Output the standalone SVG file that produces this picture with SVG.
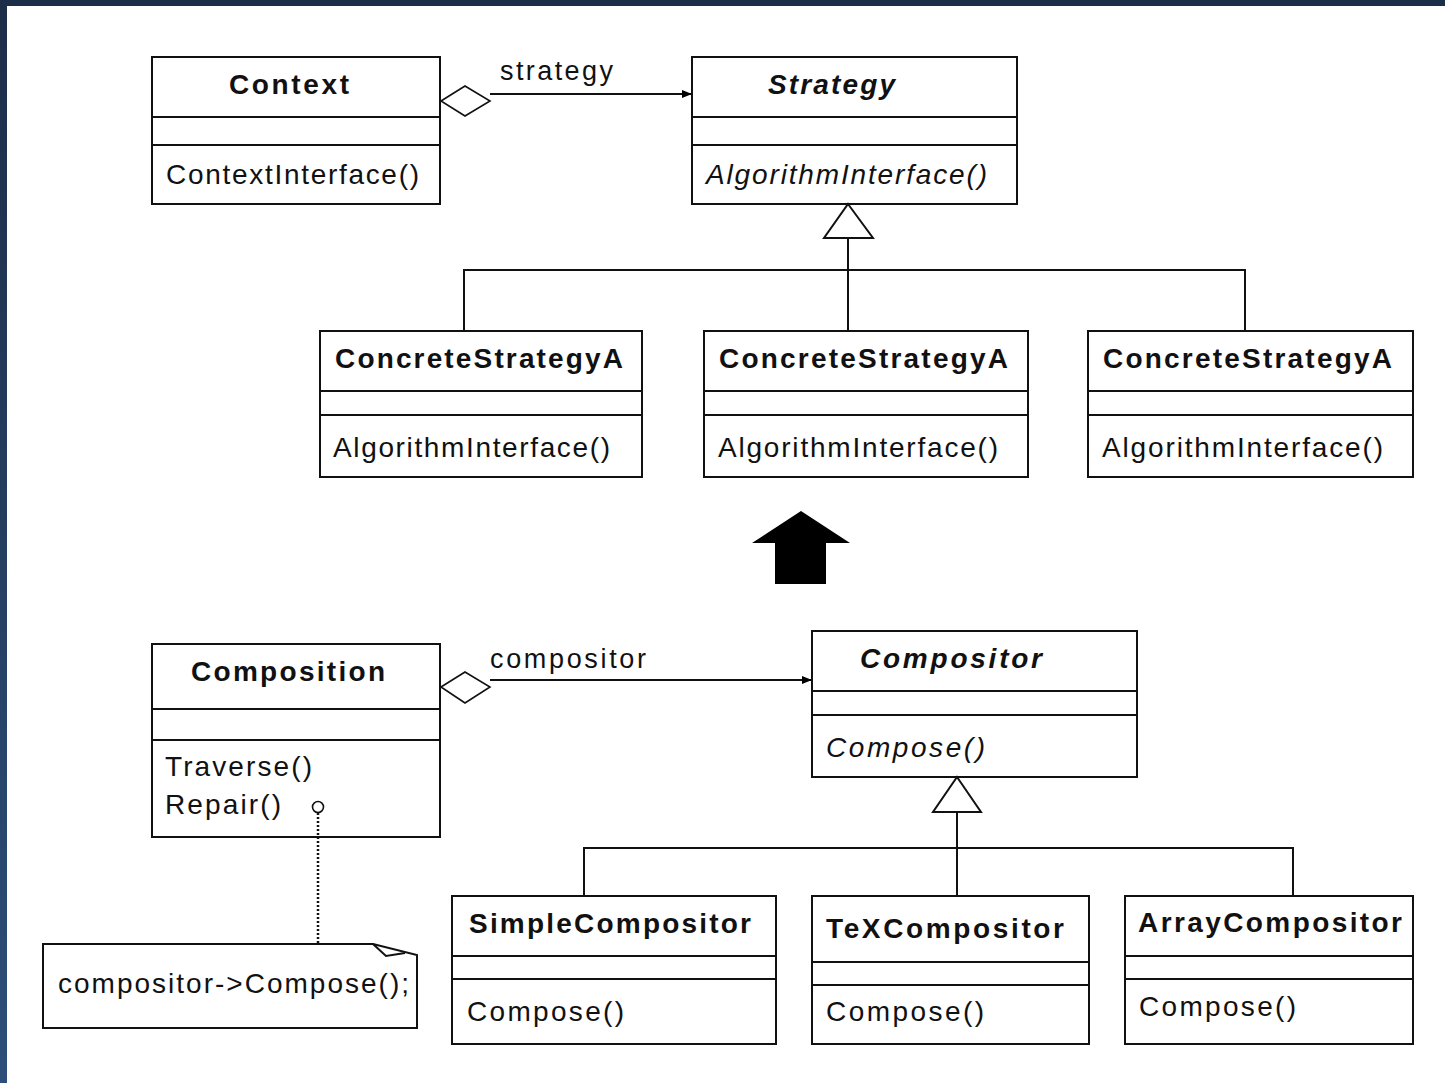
<svg xmlns="http://www.w3.org/2000/svg" width="1445" height="1083" viewBox="0 0 1445 1083">
  <defs>
    <linearGradient id="edgeGrad" x1="0" y1="0" x2="0" y2="1">
      <stop offset="0" stop-color="#1c2d48"/>
      <stop offset="1" stop-color="#2d4f79"/>
    </linearGradient>
    <marker id="navArrow" viewBox="0 0 10 10" refX="10" refY="5" markerWidth="10" markerHeight="10" markerUnits="userSpaceOnUse" orient="auto">
      <path d="M0,1 L10,5 L0,9 Z" fill="#000"/>
    </marker>
    <style>
      .box { fill: #fff; stroke: #111; stroke-width: 2; }
      .div { stroke: #111; stroke-width: 2; }
      .ln { fill: none; stroke: #111; stroke-width: 2; }
      .t { font-family: "Liberation Sans", Arial, sans-serif; font-size: 28px; fill: #111; }
      .title { font-weight: bold; }
      .it { font-style: italic; }
      .lbl { font-size: 27px; }
      .diamond { fill: #fff; stroke: #111; stroke-width: 1.6; }
      .tri { fill: #fff; stroke: #111; stroke-width: 2; }
    </style>
  </defs>

  <!-- page background and window edge -->
  <rect x="0" y="0" width="1445" height="1083" fill="#fff"/>
  <rect x="0" y="0" width="1445" height="6" fill="#1c2d48"/>
  <rect x="0" y="0" width="7" height="1083" fill="url(#edgeGrad)"/>

  <!-- big "becomes" arrow -->
  <path id="arrow-up" d="M801,511 L850,543 L826,543 L826,584 L775,584 L775,543 L752,543 Z" fill="#000"/>

  <g id="node-context">
    <rect class="box" x="152" y="57" width="288" height="147"/>
    <line class="div" x1="152" y1="117" x2="440" y2="117"/>
    <line class="div" x1="152" y1="145" x2="440" y2="145"/>
    <text class="t title" x="229" y="94" textLength="120" lengthAdjust="spacing">Context</text>
    <text class="t" x="166" y="184" textLength="253" lengthAdjust="spacing">ContextInterface()</text>
  </g>

  <g id="node-strategy">
    <rect class="box" x="692" y="57" width="325" height="147"/>
    <line class="div" x1="692" y1="117" x2="1017" y2="117"/>
    <line class="div" x1="692" y1="145" x2="1017" y2="145"/>
    <text class="t title it" x="768" y="94" textLength="127" lengthAdjust="spacing">Strategy</text>
    <text class="t it" x="706" y="184" textLength="281" lengthAdjust="spacing">AlgorithmInterface()</text>
  </g>

  <g id="node-concrete-1">
    <rect class="box" x="320" y="331" width="322" height="146"/>
    <line class="div" x1="320" y1="391" x2="642" y2="391"/>
    <line class="div" x1="320" y1="415" x2="642" y2="415"/>
    <text class="t title" x="335" y="368" textLength="288" lengthAdjust="spacing">ConcreteStrategyA</text>
    <text class="t" x="333" y="457" textLength="277" lengthAdjust="spacing">AlgorithmInterface()</text>
  </g>

  <g id="node-concrete-2">
    <rect class="box" x="704" y="331" width="324" height="146"/>
    <line class="div" x1="704" y1="391" x2="1028" y2="391"/>
    <line class="div" x1="704" y1="415" x2="1028" y2="415"/>
    <text class="t title" x="719" y="368" textLength="289" lengthAdjust="spacing">ConcreteStrategyA</text>
    <text class="t" x="718" y="457" textLength="280" lengthAdjust="spacing">AlgorithmInterface()</text>
  </g>

  <g id="node-concrete-3">
    <rect class="box" x="1088" y="331" width="325" height="146"/>
    <line class="div" x1="1088" y1="391" x2="1413" y2="391"/>
    <line class="div" x1="1088" y1="415" x2="1413" y2="415"/>
    <text class="t title" x="1103" y="368" textLength="289" lengthAdjust="spacing">ConcreteStrategyA</text>
    <text class="t" x="1102" y="457" textLength="281" lengthAdjust="spacing">AlgorithmInterface()</text>
  </g>

  <g id="node-composition">
    <rect class="box" x="152" y="644" width="288" height="193"/>
    <line class="div" x1="152" y1="709" x2="440" y2="709"/>
    <line class="div" x1="152" y1="740" x2="440" y2="740"/>
    <text class="t title" x="191" y="681" textLength="194" lengthAdjust="spacing">Composition</text>
    <text class="t" x="165" y="776" textLength="147" lengthAdjust="spacing">Traverse()</text>
    <text class="t" x="165" y="814" textLength="116" lengthAdjust="spacing">Repair()</text>
  </g>

  <g id="node-compositor">
    <rect class="box" x="812" y="631" width="325" height="146"/>
    <line class="div" x1="812" y1="691" x2="1137" y2="691"/>
    <line class="div" x1="812" y1="715" x2="1137" y2="715"/>
    <text class="t title it" x="860" y="668" textLength="182" lengthAdjust="spacing">Compositor</text>
    <text class="t it" x="826" y="757" textLength="159" lengthAdjust="spacing">Compose()</text>
  </g>

  <g id="node-note">
    <path class="box" d="M43,944 H373 L417,955 V1028 H43 Z"/>
    <path class="ln" d="M373,944 L386,956 L405,953" stroke-width="1.5"/>
    <text class="t" x="58" y="993" textLength="351" lengthAdjust="spacing">compositor-&gt;Compose();</text>
  </g>

  <g id="node-simple">
    <rect class="box" x="452" y="896" width="324" height="148"/>
    <line class="div" x1="452" y1="956" x2="776" y2="956"/>
    <line class="div" x1="452" y1="979" x2="776" y2="979"/>
    <text class="t title" x="469" y="933" textLength="282" lengthAdjust="spacing">SimpleCompositor</text>
    <text class="t" x="467" y="1021" textLength="157" lengthAdjust="spacing">Compose()</text>
  </g>

  <g id="node-tex">
    <rect class="box" x="812" y="896" width="277" height="148"/>
    <line class="div" x1="812" y1="962" x2="1089" y2="962"/>
    <line class="div" x1="812" y1="985" x2="1089" y2="985"/>
    <text class="t title" x="826" y="938" textLength="238" lengthAdjust="spacing">TeXCompositor</text>
    <text class="t" x="826" y="1021" textLength="158" lengthAdjust="spacing">Compose()</text>
  </g>

  <g id="node-array">
    <rect class="box" x="1125" y="896" width="288" height="148"/>
    <line class="div" x1="1125" y1="956" x2="1413" y2="956"/>
    <line class="div" x1="1125" y1="979" x2="1413" y2="979"/>
    <text class="t title" x="1138" y="932" textLength="264" lengthAdjust="spacing">ArrayCompositor</text>
    <text class="t" x="1139" y="1016" textLength="157" lengthAdjust="spacing">Compose()</text>
  </g>

  <!-- connectors (drawn over the boxes so the end symbols sit on top) -->
  <g id="connectors">
    <!-- Context -> Strategy aggregation -->
    <line class="ln" x1="490" y1="94" x2="692" y2="94" marker-end="url(#navArrow)"/>
    <path class="diamond" d="M441,101 L465,86 L490,101 L465,116 Z"/>
    <text class="t lbl" x="500" y="80" textLength="113" lengthAdjust="spacing">strategy</text>

    <!-- Strategy generalization tree -->
    <path class="ln" d="M848,238 V331 M464,331 V270 H1245 V331"/>
    <path class="tri" d="M848,204 L873,238 L824,238 Z"/>

    <!-- Composition -> Compositor aggregation -->
    <line class="ln" x1="490" y1="680" x2="812" y2="680" marker-end="url(#navArrow)"/>
    <path class="diamond" d="M441,687 L465,672 L490,687 L465,703 Z"/>
    <text class="t lbl" x="490" y="668" textLength="156" lengthAdjust="spacing">compositor</text>

    <!-- Compositor generalization tree -->
    <path class="ln" d="M957,812 V896 M584,896 V848 H1293 V896"/>
    <path class="tri" d="M957,777 L981,812 L933,812 Z"/>

    <!-- Repair() note anchor -->
    <line x1="318" y1="813" x2="318" y2="943" stroke="#111" stroke-width="2.5" stroke-dasharray="2,2"/>
    <circle cx="318" cy="807" r="5.5" fill="#fff" stroke="#111" stroke-width="1.6"/>
  </g>
</svg>
